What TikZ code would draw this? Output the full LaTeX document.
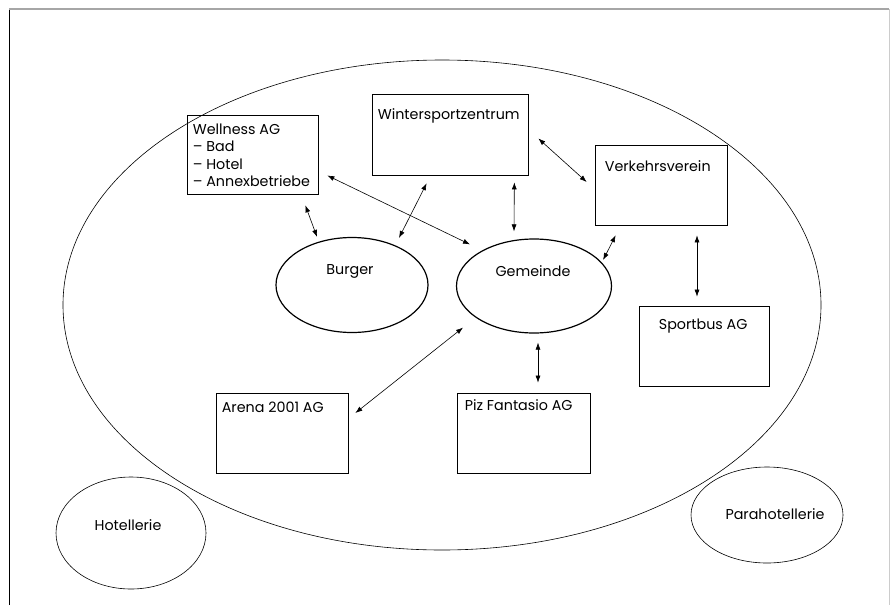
\documentclass[tikz,border=0pt]{standalone}
\usepackage{fontspec}
\setmainfont{Poppins}
\usetikzlibrary{arrows.meta,calc,shapes.geometric,positioning}

\begin{document}
\begin{tikzpicture}[x=1pt,y=-1pt,
  box/.style={draw,line width=0.7pt,rectangle,inner sep=0pt},
  oval/.style={draw,line width=1.2pt,ellipse,inner sep=0pt},
  ring/.style={draw,line width=0.6pt,ellipse,inner sep=0pt},
  lbl/.style={anchor=north west,inner sep=0pt,align=left,font=\fontsize{14.3}{17.3}\selectfont},
  mid/.style={anchor=center,inner sep=0pt,font=\fontsize{14.3}{16}\selectfont},
  link/.style={{Latex[length=7pt,width=5pt]}-{Latex[length=7pt,width=5pt]},line width=0.6pt}]
\useasboundingbox (0,0) rectangle (890,605);
\draw[line width=0.8pt] (9,605) -- (9,9);
\draw[gray!70,line width=1.4pt] (9,9) -- (889,9);
\draw[gray!40,line width=0.8pt] (889,9) -- (889,605);
\node[ring,minimum width=758,minimum height=490] (welt) at (442,305) {};
\node[ring,minimum width=150,minimum height=112,label={[mid,xshift=-3pt,yshift=8pt]center:Hotellerie}] (hotel) at (131,533) {};
\node[ring,minimum width=152,minimum height=96,label={[mid,xshift=8pt,yshift=1pt]center:Parahotellerie}] (para) at (767,515) {};
\node[box,minimum width=131,minimum height=79,label={[lbl,xshift=6pt,yshift=-9pt]north west:Wellness AG\\– Bad\\– Hotel\\– Annexbetriebe}] (wellness) at (252.5,154.5) {};
\node[box,minimum width=156,minimum height=81,label={[lbl,xshift=6pt,yshift=-15pt]north west:Wintersportzentrum}] (winter) at (450,134.5) {};
\node[box,minimum width=132,minimum height=80,label={[lbl,xshift=10pt,yshift=-16pt]north west:Verkehrsverein}] (verkehr) at (661,185) {};
\node[box,minimum width=130,minimum height=80,label={[lbl,xshift=20pt,yshift=-13pt]north west:Sportbus AG}] (sportbus) at (704,346) {};
\node[box,minimum width=133,minimum height=80,label={[lbl,xshift=8pt,yshift=-7pt]north west:Piz Fantasio AG}] (piz) at (523.5,433) {};
\node[box,minimum width=132,minimum height=80,label={[lbl,xshift=6pt,yshift=-9pt]north west:Arena 2001 AG}] (arena) at (282,433) {};
\node[oval,minimum width=152,minimum height=95,label={[mid,xshift=-2pt,yshift=14pt]center:Burger}] (burger) at (352,285) {};
\node[oval,minimum width=155,minimum height=94,label={[mid,xshift=-1pt,yshift=15pt]center:Gemeinde}] (gemeinde) at (534,286) {};
\draw[link] ($(wellness.south east)+(-13,11)$) -- ($(burger.north)+(-35,0)$);
\draw[link] ($(wellness.east)+(9,21)$) -- ($(gemeinde.north)+(-64,6)$);
\draw[link] ($(winter.south west)+(55,8)$) -- ($(burger.north)+(47,1)$);
\draw[link] ($(winter.south east)+(-14,7)$) -- ($(gemeinde.north)+(-20,-7)$);
\draw[link] ($(winter.east)+(10,4)$) -- ($(verkehr.west)+(-8,-3)$);
\draw[link] ($(verkehr.south west)+(21,10)$) -- ($(gemeinde.east)+(-9,-26)$);
\draw[link] ($(verkehr.south)+(36,10)$) -- ($(sportbus.north)+(-7,-9)$);
\draw[link] ($(gemeinde.south)+(-71,-6)$) -- ($(arena.east)+(7,-20)$);
\draw[link] ($(gemeinde.south)+(4,9)$) -- ($(piz.north)+(14.5,-10)$);
\end{tikzpicture}
\end{document}
